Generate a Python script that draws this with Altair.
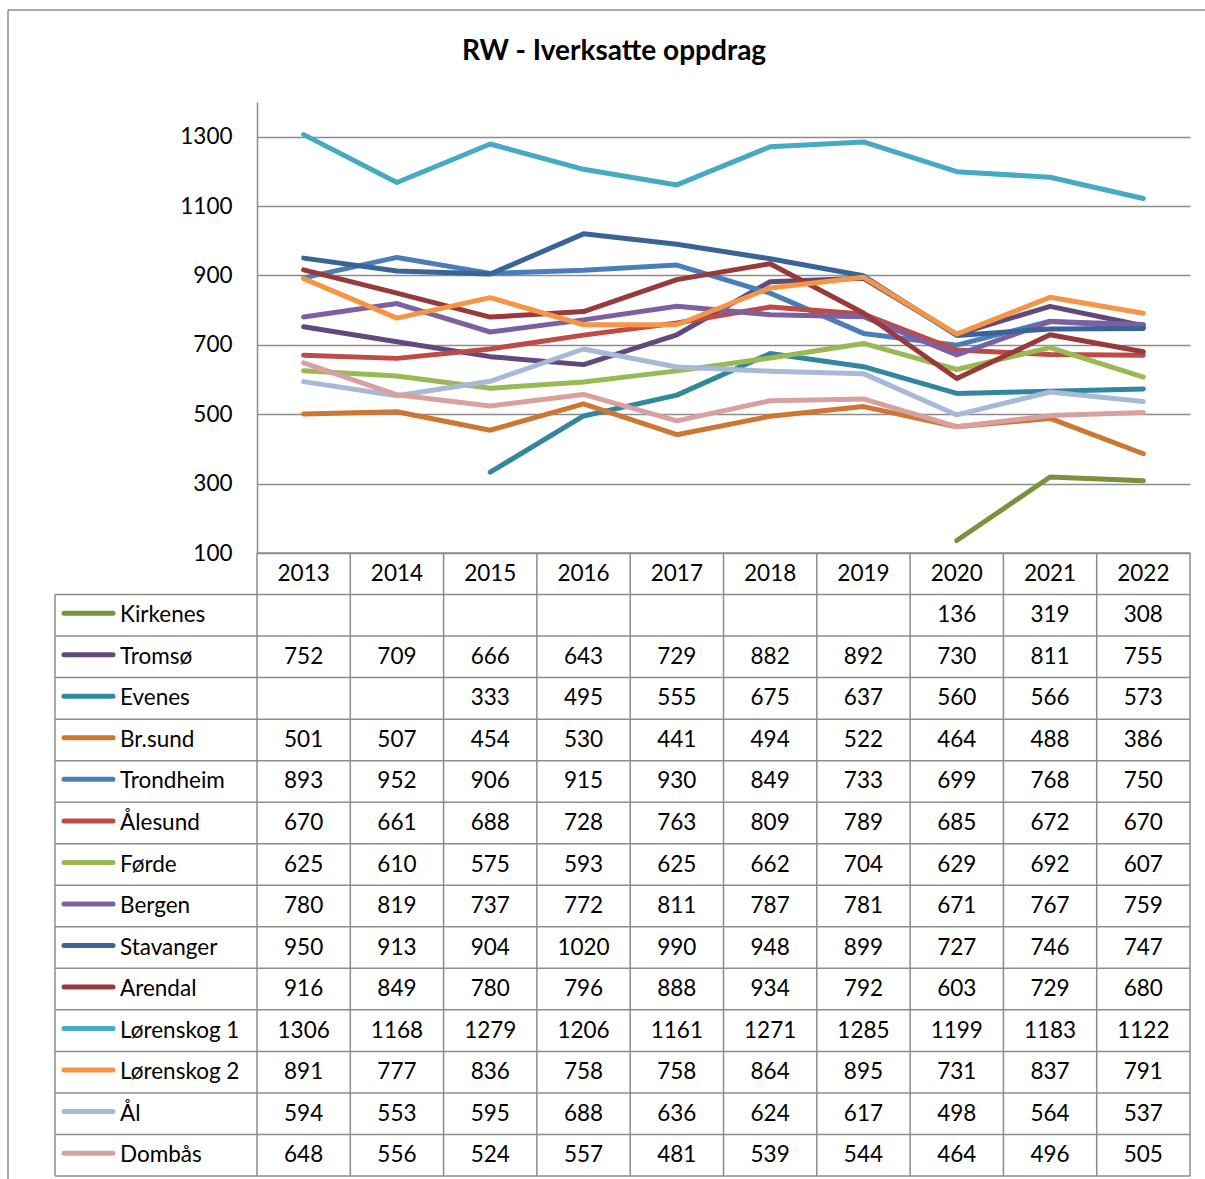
import altair as alt
import pandas as pd

# ---------------- data ----------------
years = [2013, 2014, 2015, 2016, 2017, 2018, 2019, 2020, 2021, 2022]
series = ["Kirkenes", "Tromsø", "Evenes", "Br.sund", "Trondheim", "Ålesund", "Førde",
          "Bergen", "Stavanger", "Arendal", "Lørenskog 1", "Lørenskog 2", "Ål", "Dombås"]

kirkenes = [None, None, None, None, None, None, None, 136, 319, 308]
tromso = [752, 709, 666, 643, 729, 882, 892, 730, 811, 755]
evenes = [None, None, 333, 495, 555, 675, 637, 560, 566, 573]
brsund = [501, 507, 454, 530, 441, 494, 522, 464, 488, 386]
trondheim = [893, 952, 906, 915, 930, 849, 733, 699, 768, 750]
alesund = [670, 661, 688, 728, 763, 809, 789, 685, 672, 670]
forde = [625, 610, 575, 593, 625, 662, 704, 629, 692, 607]
bergen = [780, 819, 737, 772, 811, 787, 781, 671, 767, 759]
stavanger = [950, 913, 904, 1020, 990, 948, 899, 727, 746, 747]
arendal = [916, 849, 780, 796, 888, 934, 792, 603, 729, 680]
lorenskog1 = [1306, 1168, 1279, 1206, 1161, 1271, 1285, 1199, 1183, 1122]
lorenskog2 = [891, 777, 836, 758, 758, 864, 895, 731, 837, 791]
al = [594, 553, 595, 688, 636, 624, 617, 498, 564, 537]
dombas = [648, 556, 524, 557, 481, 539, 544, 464, 496, 505]

all_values = [kirkenes, tromso, evenes, brsund, trondheim, alesund, forde,
              bergen, stavanger, arendal, lorenskog1, lorenskog2, al, dombas]

colors = ["#77933C", "#604A7B", "#31879C", "#CC7733", "#4A7EBB", "#BE4B48", "#98B954",
          "#7D60A0", "#3B6496", "#98393A", "#46AAC5", "#F69546", "#A7B9D6", "#D9A0A0"]

y_ticks = [100, 300, 500, 700, 900, 1100, 1300]
title_text = "RW - Iverksatte oppdrag"

# ---------------- tables built from the arrays ----------------
line_records = []
for name, vals in zip(series, all_values):
    for yr, v in zip(years, vals):
        if v is not None:
            line_records.append({"series": name, "year": yr, "value": v})
lines_df = pd.DataFrame(line_records)

cell_records = [{"row": "header", "year": yr, "text": str(yr)} for yr in years]
cell_records += [{"row": r["series"], "year": r["year"], "text": str(r["value"])} for r in line_records]
cells_df = pd.DataFrame(cell_records)

series_df = pd.DataFrame({"row": series})
header_df = pd.DataFrame({"row": ["header"]})
kirk_df = pd.DataFrame({"row": [series[0]]})
years_df = pd.DataFrame({"year": years})
one_df = pd.DataFrame({"k": [0]})
title_df = pd.DataFrame({"t": [title_text]})

# ---------------- layout ----------------
W = 933
LINE_H = 451
TABLE_H = 623
H = LINE_H + TABLE_H
LABEL_W = 202
GRID = "#8C8C8C"
FONT = "Lato"
FS = 22.5

row_keys = ["header"] + series
x_scale = alt.Scale(type="band", domain=years, paddingInner=0, paddingOuter=0)
row_scale = alt.Scale(type="band", domain=row_keys, range=[LINE_H, H], paddingInner=0, paddingOuter=0)
color_scale = alt.Scale(domain=series, range=colors)

# outer chart-area border (top and left)
border_top = alt.Chart(one_df).mark_rule(color=GRID, strokeWidth=1.5).encode(
    x=alt.value(-249), x2=alt.value(1000), y=alt.value(-92))
border_left = alt.Chart(one_df).mark_rule(color=GRID, strokeWidth=1.5).encode(
    x=alt.value(-249), y=alt.value(-92), y2=alt.value(H + 200))

title = alt.Chart(title_df).mark_text(font=FONT, fontSize=28, fontWeight="bold",
                                      color="black", align="center", baseline="alphabetic").encode(
    x=alt.value(357), y=alt.value(-42), text="t:N")

lines = alt.Chart(lines_df).mark_line(strokeWidth=5, strokeCap="round", strokeJoin="round").encode(
    x=alt.X("year:O", scale=x_scale, bandPosition=0.5, axis=None),
    y=alt.Y("value:Q", scale=alt.Scale(domain=[100, 1400], range=[LINE_H, 0], nice=False, zero=False),
            axis=alt.Axis(values=y_ticks, format="d", grid=True, ticks=False, labelPadding=25, title=None,
                          domainColor=GRID, domainWidth=1.5, gridColor=GRID, gridWidth=1.5,
                          labelFont=FONT, labelFontSize=FS, labelColor="black")),
    color=alt.Color("series:N", scale=color_scale, legend=None),
    order=alt.Order("year:O"),
)

# table grid
h_rules = alt.Chart(series_df).mark_rule(color=GRID, strokeWidth=1.5).encode(
    y=alt.Y("row:N", scale=row_scale, bandPosition=0, axis=None),
    x=alt.value(-LABEL_W), x2=alt.value(W))
h_header = alt.Chart(header_df).mark_rule(color=GRID, strokeWidth=1.5).encode(
    y=alt.Y("row:N", scale=row_scale, bandPosition=0, axis=None),
    x=alt.value(0), x2=alt.value(W))
h_bottom = alt.Chart(one_df).mark_rule(color=GRID, strokeWidth=1.5).encode(
    y=alt.value(H), x=alt.value(-LABEL_W), x2=alt.value(W))
v_rules = alt.Chart(years_df).mark_rule(color=GRID, strokeWidth=1.5).encode(
    x=alt.X("year:O", scale=x_scale, bandPosition=0, axis=None),
    y=alt.value(LINE_H), y2=alt.value(H))
v_right = alt.Chart(one_df).mark_rule(color=GRID, strokeWidth=1.5).encode(
    x=alt.value(W), y=alt.value(LINE_H), y2=alt.value(H))
v_left = alt.Chart(kirk_df).mark_rule(color=GRID, strokeWidth=1.5).encode(
    x=alt.value(-LABEL_W),
    y=alt.Y("row:N", scale=row_scale, bandPosition=0, axis=None),
    y2=alt.value(H))

swatches = alt.Chart(series_df).mark_rule(strokeWidth=5, strokeCap="round").encode(
    x=alt.value(-193), x2=alt.value(-144),
    y=alt.Y("row:N", scale=row_scale, bandPosition=0.45, axis=None),
    color=alt.Color("row:N", scale=color_scale, legend=None))

labels = alt.Chart(series_df).mark_text(font=FONT, fontSize=FS, color="black",
                                        align="left", baseline="middle").encode(
    x=alt.value(-137),
    y=alt.Y("row:N", scale=row_scale, bandPosition=0.5, axis=None),
    text="row:N")

cells = alt.Chart(cells_df).mark_text(font=FONT, fontSize=FS, color="black",
                                      align="center", baseline="middle").encode(
    x=alt.X("year:O", scale=x_scale, bandPosition=0.5, axis=None),
    y=alt.Y("row:N", scale=row_scale, bandPosition=0.5, axis=None),
    text="text:N")

chart = alt.layer(
    border_top, border_left, title,
    h_rules, h_header, h_bottom, v_rules, v_right, v_left,
    lines, swatches, labels, cells,
).resolve_scale(y="independent").resolve_axis(y="independent").properties(
    width=W, height=H,
    autosize=alt.AutoSizeParams(type="none"),
    padding={"left": 257, "top": 102, "right": 15, "bottom": 5},
    background="white",
).configure_view(stroke=None)

chart.save("out.html", embed_options={"renderer": "svg", "actions": False})
